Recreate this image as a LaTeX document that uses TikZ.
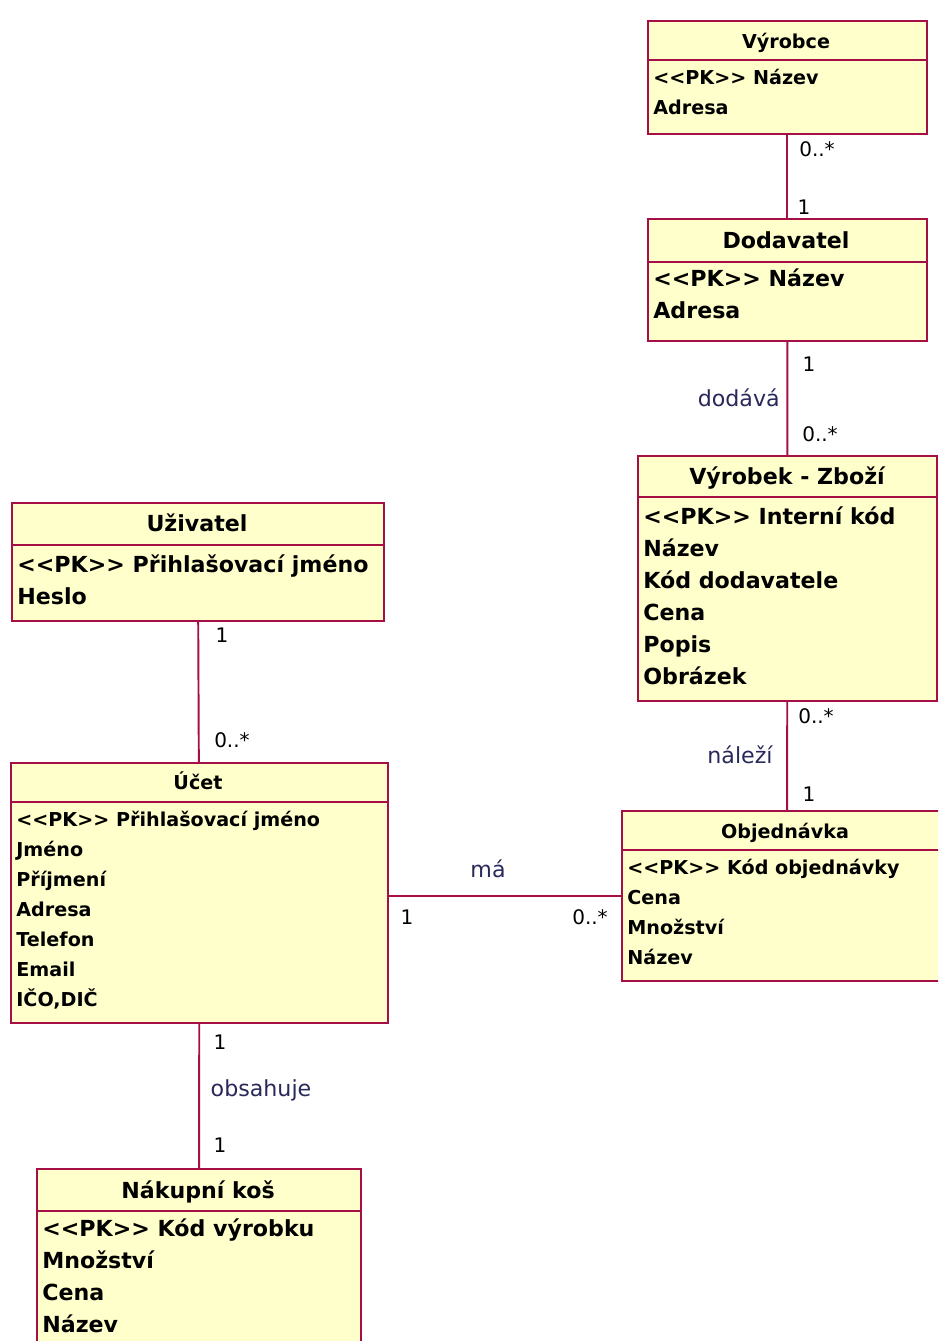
\documentclass[tikz,border=0pt]{standalone}
\usepackage{fontspec}
\setmainfont{DejaVu Sans}[Ligatures=TeXOff]
\usetikzlibrary{positioning}
\definecolor{umlborder}{RGB}{165,15,70}
\definecolor{umlfill}{RGB}{255,255,204}
\definecolor{umllabel}{RGB}{40,40,90}
\newcommand\smallcls{\fontsize{10.9}{13}\selectfont\bfseries}
\newcommand\largecls{\fontsize{12.6}{15}\selectfont\bfseries}

\begin{document}
\begin{tikzpicture}[x=0.02cm, y=-0.02cm]
        \tikzstyle{box} = [rectangle, draw=umlborder, fill=umlfill, line width=1.1pt, anchor=north west, inner sep=0pt]
        \tikzstyle{link} = [draw=umlborder, line width=1.1pt]
        \tikzstyle{txt} = [inner sep=0pt, text height=1.33ex, text depth=0pt]
        \tikzstyle{attr} = [txt, anchor=west]
        \tikzstyle{mult} = [txt, font=\fontsize{11.4}{13}\selectfont]
        \tikzstyle{role} = [txt, text=umllabel, font=\fontsize{12.6}{15}\selectfont]

        \useasboundingbox (0,0) rectangle (938,1341);
        \clip (0,0) rectangle (938,1341);

        % classes
        \node (vyrobce) [box, minimum width=5.58cm, minimum height=2.26cm] at (647,20) {};
        \node (dodavatel) [box, minimum width=5.58cm, minimum height=2.44cm] at (647,218) {};
        \node (vyrobek) [box, minimum width=5.98cm, minimum height=4.9cm] at (637,455) {};
        \node (objednavka) [box, minimum width=6.6cm, minimum height=3.4cm] at (621,810) {};
        \node (uzivatel) [box, minimum width=7.44cm, minimum height=2.36cm] at (11,502) {};
        \node (ucet) [box, minimum width=7.54cm, minimum height=5.2cm] at (10,762) {};
        \node (kos) [box, minimum width=6.48cm, minimum height=3.8cm] at (36,1168) {};

        \draw [link] (vyrobce.west |- 0,60) -- (vyrobce.east |- 0,60);
        \draw [link] (dodavatel.west |- 0,262) -- (dodavatel.east |- 0,262);
        \draw [link] (vyrobek.west |- 0,497) -- (vyrobek.east |- 0,497);
        \draw [link] (objednavka.west |- 0,850) -- (objednavka.east |- 0,850);
        \draw [link] (uzivatel.west |- 0,545) -- (uzivatel.east |- 0,545);
        \draw [link] (ucet.west |- 0,802) -- (ucet.east |- 0,802);
        \draw [link] (kos.west |- 0,1211) -- (kos.east |- 0,1211);

        \node (vyrobce-t) [txt, font=\smallcls] at (786,42) {Výrobce};
        \node (dodavatel-t) [txt, font=\largecls] at (786,242) {Dodavatel};
        \node (vyrobek-t) [txt, font=\largecls] at (787,478) {Výrobek - Zboží};
        \node (objednavka-t) [txt, font=\smallcls] at (785,832) {Objednávka};
        \node (uzivatel-t) [txt, font=\largecls] at (197,525) {Uživatel};
        \node (ucet-t) [txt, font=\smallcls] at (198,783) {Účet};
        \node (kos-t) [txt, font=\largecls] at (198,1192) {Nákupní koš};

        % attributes
        \foreach \a [count=\i] in {<<PK>> Název, Adresa}
            \node (vyrobce-a\i) [attr, font=\smallcls] at (653,{48+30*\i}) {\a};
        \foreach \a [count=\i] in {<<PK>> Název, Adresa}
            \node (dodavatel-a\i) [attr, font=\largecls] at (653,{248+32*\i}) {\a};
        \foreach \a [count=\i] in {<<PK>> Interní kód, Název, Kód dodavatele, Cena, Popis, Obrázek}
            \node (vyrobek-a\i) [attr, font=\largecls] at (643,{486+32*\i}) {\a};
        \foreach \a [count=\i] in {<<PK>> Kód objednávky, Cena, Množství, Název}
            \node (objednavka-a\i) [attr, font=\smallcls] at (627,{838+30*\i}) {\a};
        \foreach \a [count=\i] in {<<PK>> Přihlašovací jméno, Heslo}
            \node (uzivatel-a\i) [attr, font=\largecls] at (17,{534+32*\i}) {\a};
        \foreach \a [count=\i] in {<<PK>> Přihlašovací jméno, Jméno, Příjmení, Adresa, Telefon, Email, {IČO,DIČ}}
            \node (ucet-a\i) [attr, font=\smallcls] at (16,{790+30*\i}) {\a};
        \foreach \a [count=\i] in {<<PK>> Kód výrobku, Množství, Cena, Název}
            \node (kos-a\i) [attr, font=\largecls] at (42,{1198+32*\i}) {\a};

        % associations
        \draw [link] (vyrobce) -- (dodavatel);
        \draw [link] (dodavatel) -- (vyrobek);
        \draw [link] (vyrobek) -- (objednavka);
        \draw [link] (uzivatel) -- (ucet);
        \draw [link] (ucet) -- (kos);
        \draw [link] (ucet.east |- objednavka.west) -- (objednavka.west);

        \node (m1) [mult] at (817,150) {0..*};
        \node (m2) [mult] at (804,208) {1};
        \node (m3) [mult] at (809,365) {1};
        \node (r1) [role, anchor=east] at (780,400) {dodává};
        \node (m4) [mult] at (820,435) {0..*};
        \node (m5) [mult] at (816,717) {0..*};
        \node (r2) [role] at (740,757) {náleží};
        \node (m6) [mult] at (809,795) {1};
        \node (m7) [mult] at (222,636) {1};
        \node (m8) [mult] at (232,741) {0..*};
        \node (r3) [role] at (488,871) {má};
        \node (m9) [mult] at (407,918) {1};
        \node (m10) [mult] at (590,918) {0..*};
        \node (m11) [mult] at (220,1043) {1};
        \node (r4) [role] at (261,1090) {obsahuje};
        \node (m12) [mult] at (220,1146) {1};

    \end{tikzpicture}
\end{document}
